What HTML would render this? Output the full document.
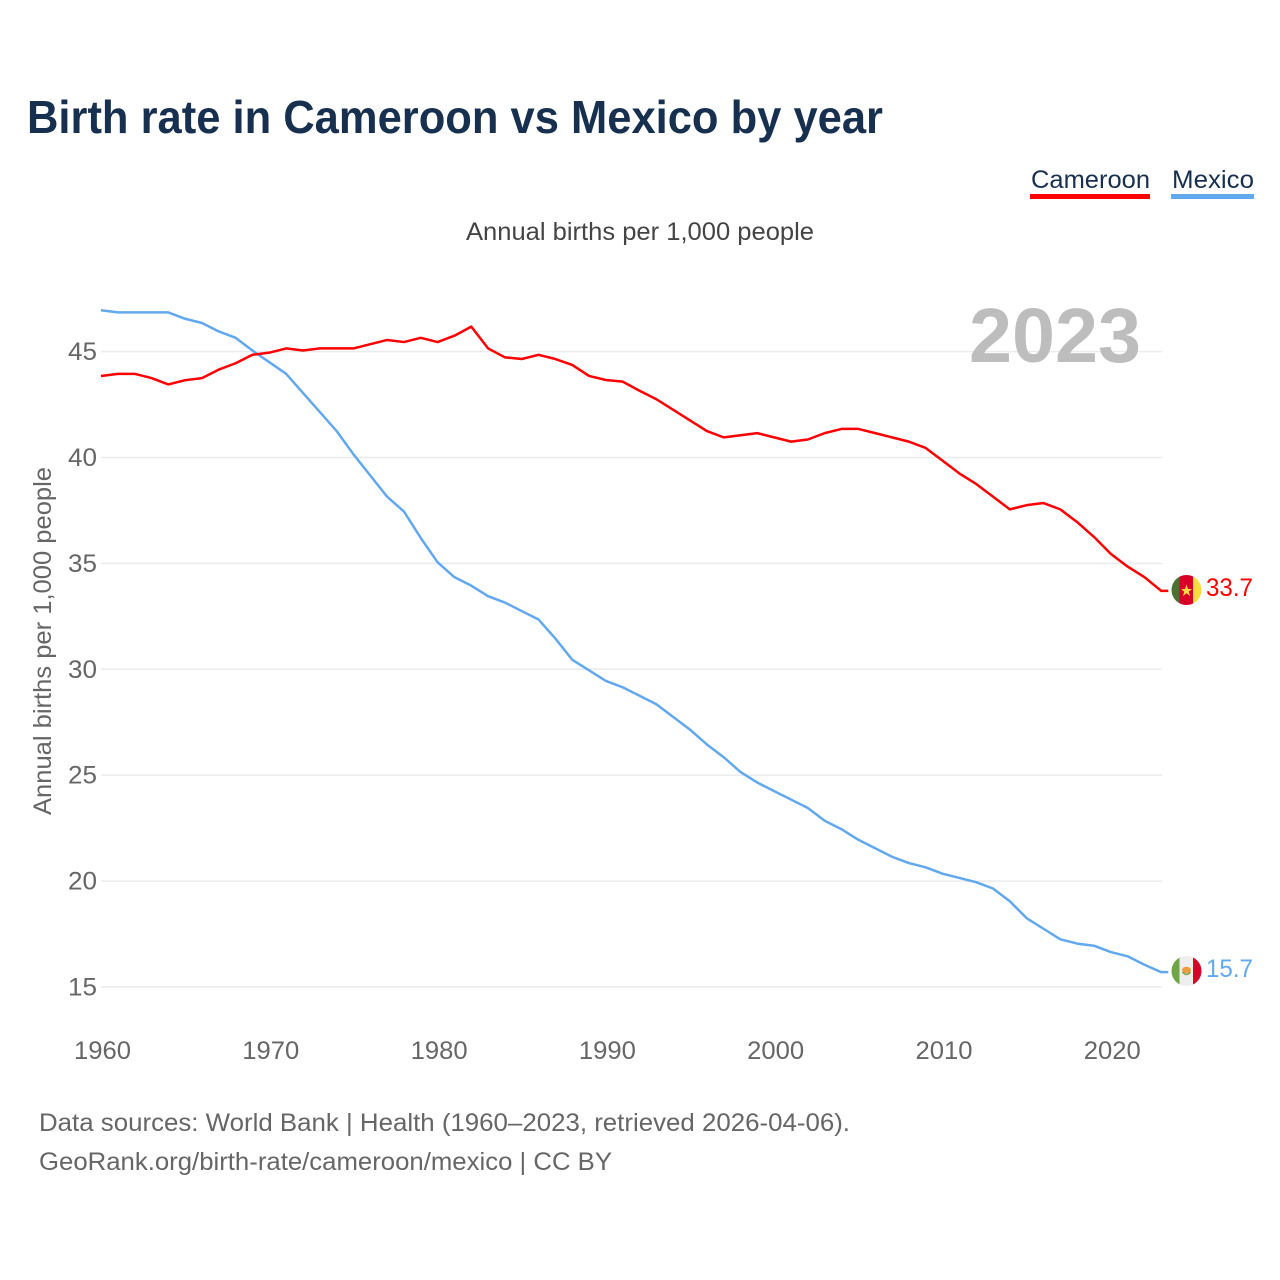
<!DOCTYPE html>
<html lang="en">
<head>
<meta charset="utf-8">
<title>Birth rate in Cameroon vs Mexico by year</title>
<style>
html,body{margin:0;padding:0;background:#fff;}
svg{display:block;font-family:"Liberation Sans",sans-serif;}
</style>
</head>
<body>
<svg id="chart" width="1280" height="1280" viewBox="0 0 1280 1280">
  <defs>
    <clipPath id="flag-clip-cm"><circle cx="1186.5" cy="590" r="15"/></clipPath>
    <clipPath id="flag-clip-mx"><circle cx="1186.5" cy="971" r="15"/></clipPath>
  </defs>
  <rect width="1280" height="1280" fill="#fff"/>
  <text x="27" y="133" font-size="46" font-weight="700" fill="#17304f" textLength="856" lengthAdjust="spacingAndGlyphs">Birth rate in Cameroon vs Mexico by year</text>

  <g>
    <text x="1031" y="188" font-size="25" fill="#17304f" textLength="119" lengthAdjust="spacingAndGlyphs">Cameroon</text>
    <rect x="1030" y="194" width="120" height="5" fill="#ff0000"/>
  </g>
  <g>
    <text x="1172" y="188" font-size="25" fill="#17304f" textLength="82" lengthAdjust="spacingAndGlyphs">Mexico</text>
    <rect x="1171" y="194" width="83" height="5" fill="#62a8ee"/>
  </g>

  <text x="466" y="240" font-size="25" fill="#444" textLength="348" lengthAdjust="spacingAndGlyphs">Annual births per 1,000 people</text>

  <g id="grid"></g>
  <text x="969" y="362" font-size="77" font-weight="700" fill="#bdbdbd" textLength="172" lengthAdjust="spacingAndGlyphs">2023</text>
  <g id="yticks"></g>
  <g id="xticks"></g>
  <text transform="translate(51,815) rotate(-90)" x="0" y="0" font-size="25" fill="#666" textLength="348" lengthAdjust="spacingAndGlyphs">Annual births per 1,000 people</text>

  <g id="series"></g>

  <g clip-path="url(#flag-clip-cm)">
    <rect x="1171" y="575" width="10" height="30" fill="#4c7030"/>
    <rect x="1179.5" y="575" width="14" height="30" fill="#d80027"/>
    <rect x="1193" y="575" width="9" height="30" fill="#ffda44"/>
    <polygon points="1186.5,584.5 1188,589 1192,589 1188.8,591.6 1190,596 1186.5,593.3 1183,596 1184.2,591.6 1181,589 1185,589" fill="#ffda44"/>
  </g>
  <g clip-path="url(#flag-clip-mx)">
    <rect x="1171" y="956" width="10" height="30" fill="#6fa544"/>
    <rect x="1179.5" y="956" width="14" height="30" fill="#eeeeee"/>
    <rect x="1193" y="956" width="9" height="30" fill="#d80027"/>
    <ellipse cx="1186.5" cy="970" rx="4.5" ry="3.2" fill="#ef9a3c"/>
    <path d="M1182.5 972 Q1186.5 977 1190.5 972" stroke="#7ba84a" stroke-width="1.6" fill="none"/>
  </g>
  <text x="1206" y="596" font-size="25" fill="#ff0000" textLength="47" lengthAdjust="spacingAndGlyphs">33.7</text>
  <text x="1206" y="977" font-size="25" fill="#62a8ee" textLength="47" lengthAdjust="spacingAndGlyphs">15.7</text>

  <text x="39" y="1131" font-size="25" fill="#666" textLength="811" lengthAdjust="spacingAndGlyphs">Data sources: World Bank | Health (1960–2023, retrieved 2026-04-06).</text>
  <text x="39" y="1170" font-size="25" fill="#666" textLength="573" lengthAdjust="spacingAndGlyphs">GeoRank.org/birth-rate/cameroon/mexico | CC BY</text>
</svg>
<script>
const startYear = 1960;
const yTickValues = [15, 20, 25, 30, 35, 40, 45];
const xTickValues = [1960, 1970, 1980, 1990, 2000, 2010, 2020];
const cameroonValues = [43.85,43.95,43.95,43.75,43.45,43.65,43.75,44.15,44.45,44.85,44.95,45.15,45.05,45.15,45.15,45.15,45.35,45.55,45.45,45.65,45.45,45.75,46.18,45.15,44.73,44.65,44.85,44.65,44.37,43.85,43.66,43.58,43.15,42.75,42.25,41.75,41.25,40.95,41.05,41.15,40.95,40.75,40.85,41.15,41.35,41.35,41.15,40.95,40.75,40.45,39.85,39.25,38.75,38.15,37.55,37.75,37.85,37.55,36.95,36.25,35.45,34.85,34.35,33.7];
const mexicoValues = [46.95,46.85,46.85,46.85,46.85,46.55,46.35,45.95,45.65,45.05,44.5,43.95,43.05,42.15,41.25,40.15,39.15,38.15,37.45,36.2,35.05,34.35,33.95,33.45,33.15,32.75,32.35,31.45,30.45,29.95,29.45,29.15,28.75,28.35,27.75,27.15,26.45,25.85,25.15,24.65,24.25,23.85,23.45,22.85,22.45,21.95,21.55,21.15,20.85,20.65,20.35,20.15,19.95,19.65,19.05,18.25,17.75,17.25,17.05,16.95,16.65,16.45,16.05,15.7];

const NS = 'http://www.w3.org/2000/svg';
function xScale(year) { return 101 + (year - 1960) * 16.83; }
function yScale(v) { return 987 - (v - 15) * 21.18; }
function make(tag, attrs, parent, text) {
  const el = document.createElementNS(NS, tag);
  for (const k in attrs) el.setAttribute(k, attrs[k]);
  if (text !== undefined) el.textContent = text;
  parent.appendChild(el);
  return el;
}
const grid = document.getElementById('grid');
const yticks = document.getElementById('yticks');
const xticks = document.getElementById('xticks');
const series = document.getElementById('series');

yTickValues.forEach(function (v) {
  const line = make('line', {x1: 101, x2: 1162, y1: yScale(v), y2: yScale(v), stroke: '#ebebeb', 'stroke-width': 1.5}, grid);
  
  
  const label = make('text', {x: 68, y: yScale(v) + 8.5, 'font-size': 25, fill: '#666', textLength: 29, lengthAdjust: 'spacingAndGlyphs'}, yticks, String(v));
  
  
});
xTickValues.forEach(function (y) {
  const label = make('text', {x: xScale(y) + 1.5, y: 1059, 'font-size': 25, fill: '#666', 'text-anchor': 'middle', textLength: 57, lengthAdjust: 'spacingAndGlyphs'}, xticks, String(y));
  
  
});
function pathFor(values) {
  const points = values.map(function (v, i) {
    return (i ? 'L' : 'M') + xScale(startYear + i).toFixed(2) + ' ' + yScale(v).toFixed(2);
  });
  const last = values[values.length - 1];
  points.push('L' + (xScale(startYear + values.length - 1) + 7).toFixed(2) + ' ' + yScale(last).toFixed(2));
  return points.join(' ');
}
const mexicoLine = make('path', {d: pathFor(mexicoValues), fill: 'none', stroke: '#62a8ee', 'stroke-width': 2.5, 'stroke-linejoin': 'round'}, series);


const cameroonLine = make('path', {d: pathFor(cameroonValues), fill: 'none', stroke: '#ff0000', 'stroke-width': 2.5, 'stroke-linejoin': 'round'}, series);


</script>
</body>
</html>
